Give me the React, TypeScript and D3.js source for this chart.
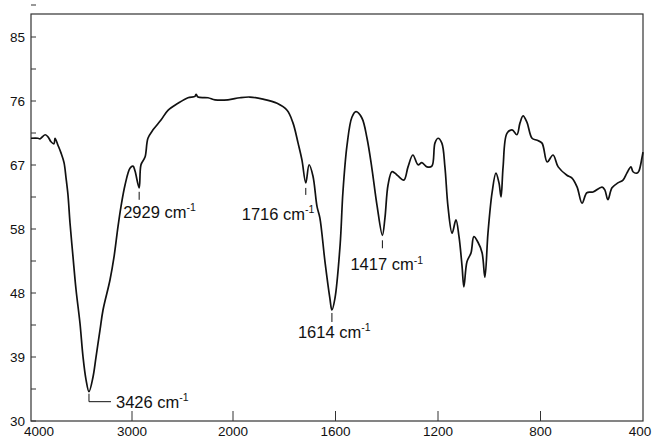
import React from 'react';
import * as d3 from 'd3';

// wavenumber (cm-1) and transmittance (%)
const wavenumbers = [
  4000, 3931, 3911, 3861, 3832, 3802, 3772, 3762, 3733, 3703, 3673, 3653, 3634, 3614, 3584, 3554,
  3515, 3485, 3455, 3426, 3386, 3356, 3317, 3287, 3218, 3178, 3139, 3109, 3069, 3020, 2990, 2970,
  2929, 2911, 2871, 2842, 2792, 2713, 2644, 2545, 2446, 2376, 2366, 2347, 2248, 2178, 2050, 1973,
  1934, 1883, 1828, 1789, 1766, 1746, 1731, 1716, 1703, 1688, 1672, 1661, 1641, 1622, 1614, 1602,
  1582, 1571, 1555, 1536, 1520, 1497, 1477, 1458, 1438, 1417, 1407, 1395, 1380, 1368, 1356, 1333,
  1317, 1298, 1278, 1263, 1243, 1224, 1212, 1200, 1185, 1173, 1161, 1145, 1130, 1118, 1106, 1099,
  1087, 1071, 1060, 1044, 1028, 1017, 1005, 989, 974, 962, 954, 946, 931, 911, 892, 880,
  868, 853, 833, 813, 794, 774, 751, 731, 697, 677, 657, 638, 619, 595, 560, 549,
  537, 521, 498, 478, 463, 447, 439, 424, 416, 404, 400,
];
const transmittance = [
  70.5, 70.5, 70.4, 71.0, 70.7, 70.0, 69.7, 70.5, 69.5, 68.4, 67.0, 64.8, 62.4, 58.4, 53.5, 48.8,
  44.0, 39.2, 35.9, 34.2, 36.3, 39.2, 43.0, 45.9, 50.2, 53.5, 57.8, 60.7, 63.8, 66.2, 66.5, 65.8,
  63.4, 66.7, 67.8, 70.5, 71.7, 73.1, 74.5, 75.5, 76.3, 76.5, 76.8, 76.4, 76.3, 76.0, 76.0, 76.3,
  76.4, 76.1, 75.5, 74.5, 72.7, 69.8, 67.4, 64.1, 66.7, 65.1, 60.7, 59.1, 52.8, 47.6, 45.9, 47.6,
  55.2, 62.8, 69.5, 73.5, 74.3, 73.4, 70.5, 66.2, 60.9, 56.6, 59.1, 63.8, 65.7, 65.5, 65.1, 64.5,
  66.4, 68.1, 66.7, 67.0, 66.4, 66.5, 69.8, 70.5, 69.8, 66.4, 60.7, 56.9, 58.8, 56.4, 52.1, 49.2,
  52.8, 54.1, 56.4, 55.6, 54.1, 50.6, 56.9, 62.7, 65.5, 64.1, 62.1, 66.4, 71.2, 71.7, 71.0, 72.7,
  73.7, 72.8, 70.5, 70.2, 69.8, 67.1, 68.1, 66.4, 65.2, 64.8, 63.5, 61.2, 62.7, 62.8, 63.5, 63.1,
  61.7, 63.4, 64.1, 64.5, 65.5, 66.4, 65.7, 65.5, 65.8, 67.7, 68.5,
];

const xTickValues = [4000, 3000, 2000, 1600, 1200, 800, 400];
const yTickValues = [30, 30 + 55 / 6, 30 + 110 / 6, 30 + 165 / 6, 30 + 220 / 6, 30 + 275 / 6, 85];

// peak annotations
const peakWn = [3426, 2929, 1716, 1614, 1417];
const peakVal = [34.2, 63.4, 64.1, 45.9, 56.6];

const W = 652;
const H = 439;
const left = 31;
const right = 643;
const top = 14;
const bottom = 421;
const font = '"Liberation Sans", Arial, Helvetica, sans-serif';

export default function App() {
  const x = d3.scaleLinear().domain([4000, 2000, 400]).range([left, 233, right]);
  const y = d3.scaleLinear().domain([30, 85]).range([bottom, 37]);

  const pts: [number, number][] = wavenumbers.map((w, i) => [w, transmittance[i]]);
  const line = d3
    .line<[number, number]>()
    .x((d) => x(d[0]))
    .y((d) => y(d[1]))
    .curve(d3.curveCatmullRom.alpha(0.5));

  const minorY = d3.range(yTickValues.length - 1).map((i) => (yTickValues[i] + yTickValues[i + 1]) / 2);
  minorY.push(85 + 55 / 12);

  const label = (txt: string, tx: number, ty: number) => (
    <text x={tx} y={ty} fontSize={16.5} fontFamily={font} fill="#111">
      {txt} cm
      <tspan fontSize={10.5} dy={-6.5}>
        -1
      </tspan>
    </text>
  );

  const [p0, p1, p2, p3, p4] = peakWn.map((w, i) => ({ px: x(w), py: y(peakVal[i]) }));

  return (
    <svg width={W} height={H} style={{ position: 'absolute', left: 0, top: 0, background: '#fff' }}>
      <rect x={left} y={top} width={right - left} height={bottom - top} fill="none" stroke="#333" strokeWidth={1.2} />

      {yTickValues.map((v) => (
        <g key={'y' + v}>
          <line x1={left} x2={left + 5} y1={y(v)} y2={y(v)} stroke="#333" strokeWidth={1} />
          <text x={25} y={y(v) + 5} fontSize={13.5} fontFamily={font} textAnchor="end" fill="#111">
            {Math.round(v)}
          </text>
        </g>
      ))}
      {minorY.map((v) => (
        <line key={'my' + v} x1={left} x2={left + 5} y1={y(v)} y2={y(v)} stroke="#333" strokeWidth={1} />
      ))}

      {xTickValues.map((v, i) => {
        const dx = i === 0 ? 8 : i === xTickValues.length - 1 ? -3 : 0;
        return (
          <g key={'x' + v}>
            {i > 0 && i < xTickValues.length - 1 && (
              <line x1={x(v)} x2={x(v)} y1={bottom} y2={bottom - 10} stroke="#333" strokeWidth={1} />
            )}
            <text x={x(v) + dx} y={436} fontSize={13.5} fontFamily={font} textAnchor="middle" fill="#111">
              {v}
            </text>
          </g>
        );
      })}

      <path d={line(pts) ?? ''} fill="none" stroke="#111" strokeWidth={1.7} strokeLinejoin="round" />

      {/* 3426 */}
      <path d={`M${p0.px},${p0.py + 2}V${p0.py + 10}H${p0.px + 22}`} fill="none" stroke="#111" strokeWidth={1} />
      {label('3426', p0.px + 27, p0.py + 16)}
      {/* 2929 */}
      <line x1={p1.px} x2={p1.px} y1={p1.py + 4} y2={p1.py + 12} stroke="#111" strokeWidth={1} />
      {label('2929', p1.px - 16, p1.py + 30)}
      {/* 1716 */}
      <line x1={p2.px} x2={p2.px} y1={p2.py + 5} y2={p2.py + 12} stroke="#111" strokeWidth={1} />
      {label('1716', p2.px - 64, p2.py + 37)}
      {/* 1614 */}
      <line x1={p3.px} x2={p3.px} y1={p3.py + 3} y2={p3.py + 12} stroke="#111" strokeWidth={1} />
      {label('1614', p3.px - 34, p3.py + 28)}
      {/* 1417 */}
      <line x1={p4.px} x2={p4.px} y1={p4.py + 5} y2={p4.py + 13} stroke="#111" strokeWidth={1} />
      {label('1417', p4.px - 32, p4.py + 35)}
    </svg>
  );
}
